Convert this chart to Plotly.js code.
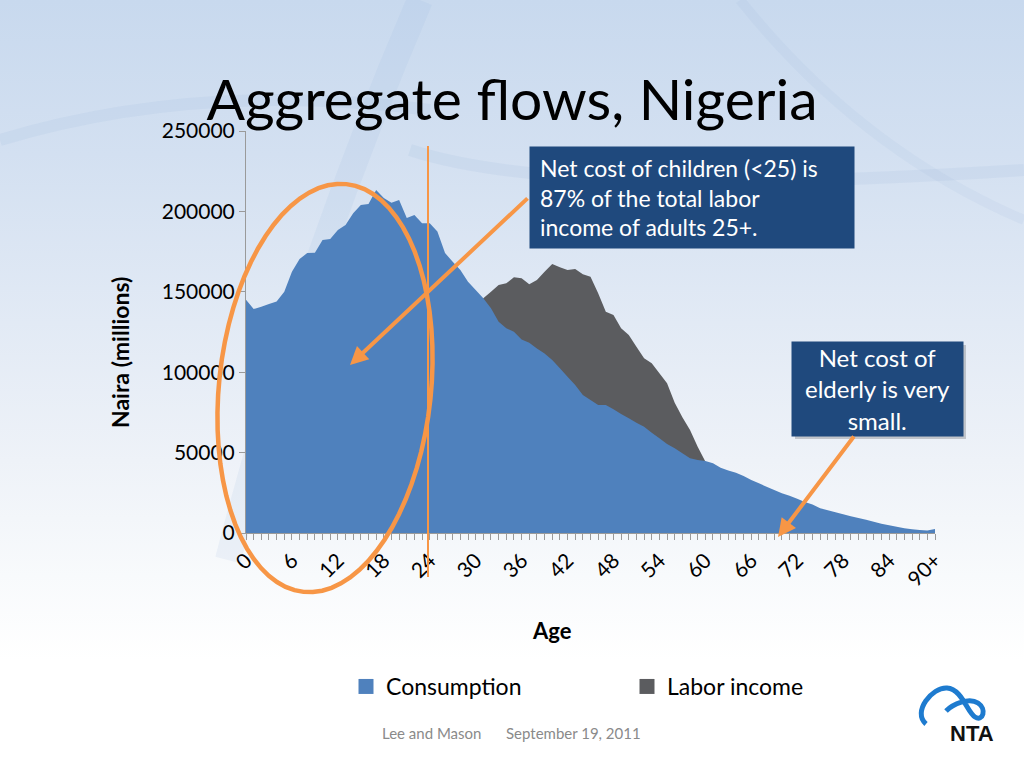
<!DOCTYPE html>
<html>
<head>
<meta charset="utf-8">
<script src="https://cdn.plot.ly/plotly-3.0.1.min.js"></script>
<style>
  html, body { margin: 0; padding: 0; }
  body {
    width: 1024px; height: 768px; overflow: hidden;
    background: linear-gradient(to bottom, #c8d9ee 0%, #d3e0f1 20%, #e2eaf5 42%, #eef2f8 60%, #f8fafc 75%, #ffffff 86%, #ffffff 100%);
  }
  #chart { width: 1024px; height: 768px; }
</style>
</head>
<body>
<div id="chart"></div>
<script>
// ---------------- DATA ----------------
const ages = [0,1,2,3,4,5,6,7,8,9,10,11,12,13,14,15,16,17,18,19,20,21,22,23,24,25,26,27,28,29,
  30,31,32,33,34,35,36,37,38,39,40,41,42,43,44,45,46,47,48,49,50,51,52,53,54,55,56,57,58,59,
  60,61,62,63,64,65,66,67,68,69,70,71,72,73,74,75,76,77,78,79,80,81,82,83,84,85,86,87,88,89,90];

const consumption = [145000,139300,140700,142400,143900,150100,162500,170400,174100,174300,
  182200,182800,188400,191500,198800,204000,204600,213300,208300,205400,
  207100,195900,197800,192700,192700,187500,174100,168700,163500,156300,
  151100,146000,139700,131400,127300,125200,120400,118300,114800,111700,
  107600,102400,97200,92000,85800,82700,79600,79600,76900,74000,
  71300,68600,66100,62400,58900,55300,52700,49600,46500,45400,
  44800,43300,40600,38800,37500,35400,33000,30900,28800,26700,
  24700,23200,21300,19300,17700,15400,14200,12900,11700,10400,
  9300,8200,7000,5800,4800,3900,3000,2400,1900,1500,2500];

const laborIncome = [0,0,0,0,0,0,0,0,0,0,
  500,1000,2000,3500,5500,8000,11000,15000,20000,26000,
  33000,42000,52000,62000,72000,84000,95000,105000,116000,126000,
  137000,146000,150100,154200,155300,159000,158400,154700,157300,162500,
  167300,165200,163500,164200,160900,159400,149100,137600,135600,127300,
  123100,115900,108600,105500,99300,93100,81000,72000,64000,53700,
  44500,38000,33000,29000,25000,21000,18000,15000,12500,10500,
  8500,7000,5800,4800,3900,3100,2500,2000,1600,1200,
  900,700,500,400,300,200,150,100,50,30,20];

const seriesNames = ["Consumption", "Labor income"];
const tickAges = [0,6,12,18,24,30,36,42,48,54,60,66,72,78,84,90];
const tickLabels = ["0","6","12","18","24","30","36","42","48","54","60","66","72","78","84","90+"];
const yTicks = [0,50000,100000,150000,200000,250000];

// ---------------- GEOMETRY HELPERS (decoration only) ----------------
const PL = 246, PR = 935, PT = 131, PB = 533;
const X = px => (px - PL) / (PR - PL);
const Y = py => (PB - py) / (PB - PT);

const FONT = "Lato, Carlito, Calibri, 'Open Sans', sans-serif";
const BLUE = "#4f81bd", GRAY = "#5b5c5f", ORANGE = "#f79646", NAVY = "#1f497d";

function ellipsePath(cx, cy, rx, ry, angDeg) {
  const a = angDeg * Math.PI / 180;
  let d = "";
  for (let i = 0; i <= 72; i++) {
    const t = i / 72 * 2 * Math.PI;
    const ex = rx * Math.cos(t), ey = ry * Math.sin(t);
    const px = cx + ex * Math.cos(a) - ey * Math.sin(a);
    const py = cy + ex * Math.sin(a) + ey * Math.cos(a);
    d += (i === 0 ? "M" : "L") + X(px).toFixed(5) + "," + Y(py).toFixed(5);
  }
  return d + "Z";
}
function pathPx(cmds) {
  return cmds.map(c => {
    const L = c[0]; const nums = [];
    for (let i = 1; i < c.length; i += 2) nums.push(X(c[i]).toFixed(5) + "," + Y(c[i+1]).toFixed(5));
    return L + nums.join(" ");
  }).join(" ");
}

// ---------------- TRACES ----------------
const traces = [
  { x: ages, y: laborIncome, name: seriesNames[1], type: "scatter", mode: "none",
    fill: "tozeroy", fillcolor: GRAY, hoverinfo: "skip", showlegend: false },
  { x: ages, y: consumption, name: seriesNames[0], type: "scatter", mode: "none",
    fill: "tozeroy", fillcolor: BLUE, hoverinfo: "skip", showlegend: false },
  // legend keys (square swatches, as in the original)
  { x: [null], y: [null], name: seriesNames[0], type: "scatter", mode: "markers",
    marker: { symbol: "square", size: 15, color: BLUE }, legendrank: 1, hoverinfo: "skip" },
  { x: [null], y: [null], name: seriesNames[1], type: "scatter", mode: "markers",
    marker: { symbol: "square", size: 15, color: GRAY }, legendrank: 2, hoverinfo: "skip" }
];

// ---------------- LAYOUT ----------------
const shapes = [
  { type: "path", xref: "paper", yref: "paper", layer: "below",
    path: pathPx([["M", 228, 560], ["Q", 300, 280, 420, 0]]),
    line: { color: "rgba(150,180,220,0.12)", width: 26 } },
  { type: "path", xref: "paper", yref: "paper", layer: "below",
    path: pathPx([["M", 0, 140], ["Q", 200, 80, 430, 110]]),
    line: { color: "rgba(150,180,220,0.13)", width: 12 } },
  { type: "path", xref: "paper", yref: "paper", layer: "below",
    path: pathPx([["M", 410, 150], ["Q", 560, 200, 1024, 170]]),
    line: { color: "rgba(150,180,220,0.13)", width: 12 } },
  { type: "path", xref: "paper", yref: "paper", layer: "below",
    path: pathPx([["M", 740, 0], ["Q", 860, 150, 1024, 220]]),
    line: { color: "rgba(150,180,220,0.10)", width: 10 } },
  { type: "line", xref: "paper", yref: "paper", x0: X(428), x1: X(428), y0: Y(146), y1: Y(577),
    line: { color: ORANGE, width: 2 } },
  { type: "path", xref: "paper", yref: "paper", path: ellipsePath(325, 388, 106, 205, 6),
    line: { color: ORANGE, width: 4.5 } },
  { type: "rect", xref: "paper", yref: "paper", x0: X(795), x1: X(966), y0: Y(345), y1: Y(439),
    fillcolor: "rgba(0,0,0,0.18)", line: { width: 0 } },
  // NTA logo ribbon
  { type: "path", xref: "paper", yref: "paper",
    path: pathPx([["M", 926, 724], ["C", 912, 712, 932, 687, 947, 688], ["C", 962, 689, 967, 712, 975, 717],
                  ["C", 983, 722, 987, 709, 978, 703], ["C", 969, 697, 953, 704, 946, 711]]),
    line: { color: "#1e7bcf", width: 5 } }
];

const annotations = [
  { xref: "paper", yref: "paper", x: X(529), y: Y(146), xanchor: "left", yanchor: "top",
    text: "Net cost of children (&lt;25) is<br>87% of the total labor<br>income of adults 25+.",
    align: "left", showarrow: false, bgcolor: NAVY, borderpad: 10, width: 304, height: 81,
    font: { family: FONT, size: 23, color: "#ffffff" } },
  { xref: "paper", yref: "paper", x: X(791), y: Y(341), xanchor: "left", yanchor: "top",
    text: "Net cost of<br>elderly is very<br>small.",
    align: "center", showarrow: false, bgcolor: NAVY, borderpad: 4, width: 163, height: 86,
    font: { family: FONT, size: 24, color: "#ffffff" } },
  { xref: "paper", yref: "paper", x: X(350), y: Y(365), text: "", showarrow: true,
    axref: "pixel", ayref: "pixel", ax: 529 - 350, ay: 197 - 365,
    arrowcolor: ORANGE, arrowwidth: 4, arrowhead: 2, arrowsize: 0.9, standoff: 0 },
  { xref: "paper", yref: "paper", x: X(778), y: Y(537), text: "", showarrow: true,
    axref: "pixel", ayref: "pixel", ax: 855 - 778, ay: 435 - 537,
    arrowcolor: ORANGE, arrowwidth: 4, arrowhead: 2, arrowsize: 0.9, standoff: 0 },
  // axis titles placed as in the original
  { xref: "paper", yref: "paper", x: X(120), y: Y(352), xanchor: "center", yanchor: "middle",
    text: "<b>Naira (millions)</b>", textangle: -90, showarrow: false,
    font: { family: FONT, size: 23, color: "#000000" } },
  { xref: "paper", yref: "paper", x: X(552), y: Y(630), xanchor: "center", yanchor: "middle",
    text: "<b>Age</b>", showarrow: false,
    font: { family: FONT, size: 22, color: "#000000" } },
  // footer
  { xref: "paper", yref: "paper", x: X(431.5), y: Y(733), xanchor: "center", yanchor: "middle",
    text: "Lee and Mason", showarrow: false, font: { family: FONT, size: 15, color: "#8a8a8a" } },
  { xref: "paper", yref: "paper", x: X(573.5), y: Y(733), xanchor: "center", yanchor: "middle",
    text: "September 19, 2011", showarrow: false, font: { family: FONT, size: 15, color: "#8a8a8a" } },
  { xref: "paper", yref: "paper", x: X(972), y: Y(733), xanchor: "center", yanchor: "middle",
    text: "<b>NTA</b>", showarrow: false,
    font: { family: "'Liberation Sans Narrow', 'Liberation Sans', Arial, sans-serif", size: 22, color: "#111111" } }
];

const layout = {
  width: 1024, height: 768,
  paper_bgcolor: "rgba(0,0,0,0)", plot_bgcolor: "rgba(0,0,0,0)",
  margin: { l: PL, r: 1024 - PR, t: PT, b: 768 - PB, pad: 0 },
  font: { family: FONT, color: "#000000" },
  title: { text: "Aggregate flows, Nigeria", font: { family: FONT, size: 57, color: "#000000" },
           x: 0.5, xref: "container", xanchor: "center", y: 1 - 100 / 768, yref: "container", yanchor: "middle" },
  showlegend: true,
  legend: { orientation: "h", x: X(346), xanchor: "left", y: Y(665), yanchor: "top",
            font: { family: FONT, size: 23, color: "#000000" }, entrywidth: 236, itemwidth: 30,
            bgcolor: "rgba(0,0,0,0)" },
  xaxis: {
    range: [0, 90], tickvals: tickAges, ticktext: tickLabels, tickangle: -45,
    ticks: "outside", ticklen: 6, tickcolor: "#9a9a9a", tickwidth: 1,
    minor: { dtick: 1, ticks: "outside", ticklen: 6, tickcolor: "#9a9a9a", tickwidth: 1, showgrid: false },
    showline: true, linecolor: "#9a9a9a", linewidth: 1, showgrid: false, zeroline: false,
    tickfont: { family: FONT, size: 21, color: "#000000" },
    fixedrange: true
  },
  yaxis: {
    range: [0, 250000], tickvals: yTicks, ticks: "outside", ticklen: 6, tickcolor: "#9a9a9a",
    showline: true, linecolor: "#9a9a9a", linewidth: 1, showgrid: false, zeroline: false,
    tickfont: { family: FONT, size: 21, color: "#000000" }, tickformat: "d",
    fixedrange: true
  },
  shapes: shapes,
  annotations: annotations
};

Plotly.newPlot("chart", traces, layout, { staticPlot: true, displayModeBar: false });
</script>
</body>
</html>
